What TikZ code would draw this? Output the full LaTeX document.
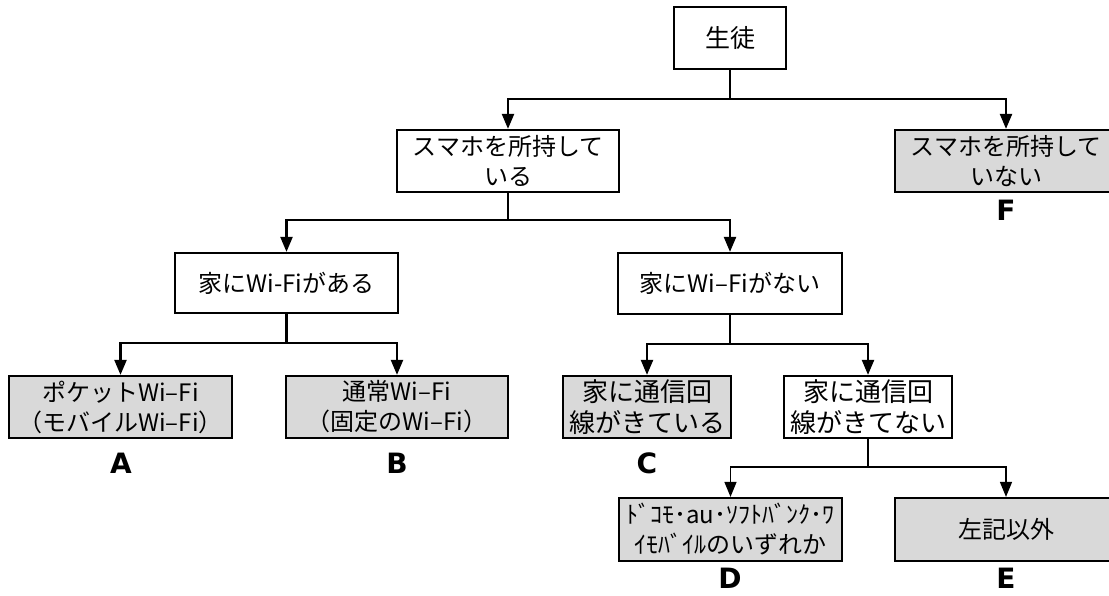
\documentclass[tikz,border=0pt]{standalone}
\usepackage{fontspec}
\newfontfamily\jp{Noto Sans CJK JP}
\newfontfamily\lab{DejaVu Sans}
\usetikzlibrary{arrows.meta}
\definecolor{boxgray}{RGB}{217,217,217}
\begin{document}
\begin{tikzpicture}[x=1pt,y=-1pt,
  box/.style={draw, line width=2.2pt, fill=white, align=center, inner sep=0pt,
    minimum height=62pt, font=\jp\fontsize{24}{30}\selectfont},
  gbox/.style={box, fill=boxgray},
  big/.style={font=\jp\fontsize{26}{31}\selectfont},
  lbl/.style={font=\lab\bfseries\fontsize{28}{30}\selectfont, inner sep=0pt},
  ln/.style={line width=2.2pt},
  arr/.style={line width=2.2pt, -{Triangle[width=12pt,length=15pt]}},
  thinln/.style={line width=1.4pt},
  tarr/.style={line width=1.4pt, -{Triangle[width=12pt,length=15pt]}}]
\clip (0,0) rectangle (1109,596);
\fill[white] (0,0) rectangle (1109,596);

% nodes
\node[box, minimum width=112pt, font=\jp\fontsize{25}{30}\selectfont] (root) at (730,38) {生徒};
\node[box, minimum width=222pt] (have) at (508,161) {スマホを所持して\\いる};
\node[gbox, minimum width=222pt] (nohave) at (1006,161) {スマホを所持して\\いない};
\node[lbl] (F) at (1006,210) {F};

\node[box, minimum width=223pt, minimum height=60pt] (wy) at (286.5,283) {家にWi-Fiがある};
\node[box, minimum width=224pt, minimum height=61pt] (wn) at (730,283.5) {家にWi–Fiがない};

\node[gbox, minimum width=223pt] (A) at (120.5,407) {ポケットWi–Fi\\（モバイルWi–Fi）};
\node[gbox, minimum width=222pt] (B) at (397,407) {通常Wi–Fi\\（固定のWi–Fi）};
\node[gbox, big, minimum width=168pt] (C) at (647,407) {家に通信回\\線がきている};
\node[box, big, minimum width=168pt] (nl) at (868,407) {家に通信回\\線がきてない};
\node[lbl] (LA) at (121,463) {A};
\node[lbl] (LB) at (397,463) {B};
\node[lbl] (LC) at (647,463) {C};

\node[gbox, minimum width=223pt, minimum height=63pt] (D) at (730.5,529.5) {ﾄﾞｺﾓ･au･ｿﾌﾄﾊﾞﾝｸ･ﾜ\\ｲﾓﾊﾞｲﾙのいずれか};
\node[gbox, minimum width=222pt, minimum height=63pt] (E) at (1006,529.5) {左記以外};
\node[lbl] (LD) at (730,578) {D};
\node[lbl] (LE) at (1006,578) {E};

% connectors
\coordinate (j0) at (730,99);
\draw[ln] (root.south) -- (j0);
\draw[arr] (j0) -| (have.north);
\draw[arr] (j0) -| (nohave.north);

\coordinate (j1) at (508,220);
\draw[ln] (have.south) -- (j1);
\draw[arr] (j1) -| (wy.north);
\draw[arr] (j1) -| (wn.north);

\coordinate (j2) at (286.5,343);
\draw[ln] (wy.south) -- (j2);
\draw[arr] (j2) -| (A.north);
\draw[arr] (j2) -| (B.north);

\coordinate (j3) at (730,344);
\draw[ln] (wn.south) -- (j3);
\draw[arr] (j3) -| (C.north);
\draw[arr] (j3) -| (nl.north);

\coordinate (j4) at (868,467);
\draw[thinln] (nl.south) -- (j4);
\draw[tarr] (j4) -| (D.north);
\draw[tarr] (j4) -| (E.north);
\end{tikzpicture}
\end{document}
